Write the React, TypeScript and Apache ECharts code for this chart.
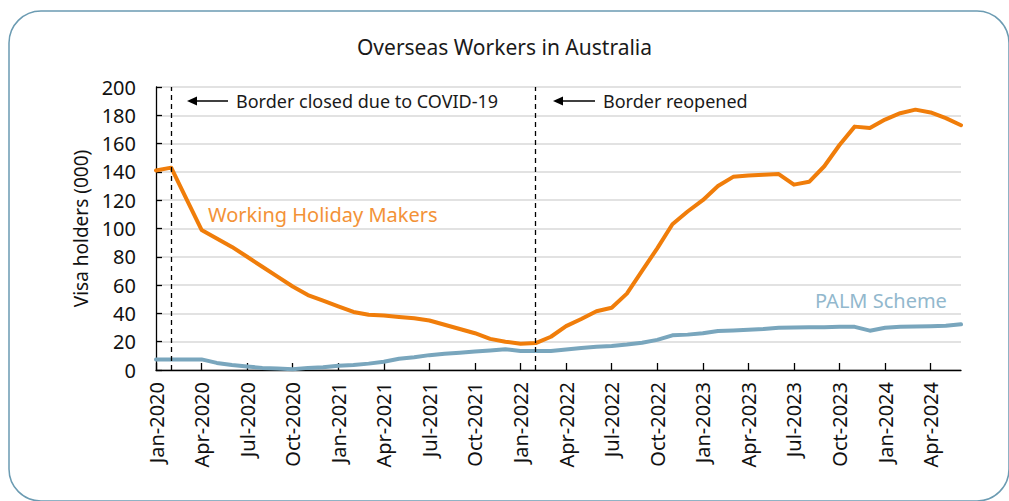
import React, { useEffect, useRef } from "react";
import * as echarts from "echarts";

const categories = [
  "Jan-2020","Feb-2020","Mar-2020","Apr-2020","May-2020","Jun-2020","Jul-2020","Aug-2020","Sep-2020","Oct-2020","Nov-2020","Dec-2020",
  "Jan-2021","Feb-2021","Mar-2021","Apr-2021","May-2021","Jun-2021","Jul-2021","Aug-2021","Sep-2021","Oct-2021","Nov-2021","Dec-2021",
  "Jan-2022","Feb-2022","Mar-2022","Apr-2022","May-2022","Jun-2022","Jul-2022","Aug-2022","Sep-2022","Oct-2022","Nov-2022","Dec-2022",
  "Jan-2023","Feb-2023","Mar-2023","Apr-2023","May-2023","Jun-2023","Jul-2023","Aug-2023","Sep-2023","Oct-2023","Nov-2023","Dec-2023",
  "Jan-2024","Feb-2024","Mar-2024","Apr-2024","May-2024","Jun-2024",
];

const workingHolidayMakers = [
  141, 143, 121, 99, 93, 87, 80, 73, 66, 59,
  53, 49, 45, 41, 39, 38.5, 37.5, 36.5, 35, 32,
  29, 26, 22, 20, 18.5, 19, 23.5, 31, 36, 41.5,
  44, 54, 70, 86, 103, 112, 120, 130, 136.5, 137.5,
  138, 138.5, 131, 133, 144, 159, 172, 171, 177, 181.5,
  184, 182, 178, 173,
];

const palmScheme = [
  7.5, 7.5, 7.5, 7.5, 5, 3.5, 2.4, 1.5, 1, 0.5,
  1.5, 2, 3, 3.5, 4.5, 5.8, 8, 9, 10.5, 11.5,
  12.2, 13, 13.8, 14.6, 13.5, 13.4, 13.5, 14.5, 15.5, 16.5,
  17, 18, 19.3, 21.3, 24.5, 25, 26, 27.6, 28, 28.5,
  29, 29.9, 30, 30.2, 30.3, 30.5, 30.5, 27.8, 29.8, 30.6,
  30.8, 31, 31.3, 32.3,
];

const eventMonths = ["Feb-2020", "Feb-2022"];
const eventLabels = ["Border closed due to COVID-19", "Border reopened"];

const FONT = "'Noto Sans', sans-serif";

export default function App() {
  const ref = useRef<HTMLDivElement>(null);

  useEffect(() => {
    if (!ref.current) return;
    const chart = echarts.init(ref.current, null, { renderer: "svg" });

    const arrow = (xTip: number, xTail: number, y: number) => [
      {
        type: "line",
        shape: { x1: xTail, y1: y, x2: xTip + 6, y2: y },
        style: { stroke: "#000", lineWidth: 1.3 },
        z: 10,
      },
      {
        type: "polygon",
        shape: { points: [[xTip, y], [xTip + 10, y - 4.5], [xTip + 10, y + 4.5]] },
        style: { fill: "#000" },
        z: 10,
      },
    ];

    chart.setOption({
      animation: false,
      backgroundColor: "#fff",
      title: {
        text: "Overseas Workers in Australia",
        left: "center",
        top: 31,
        textStyle: { fontFamily: FONT, fontSize: 21, fontWeight: "normal", color: "#1a1a1a" },
      },
      grid: { left: 156, right: 48, top: 87, bottom: 131, containLabel: false },
      xAxis: {
        type: "category",
        data: categories,
        boundaryGap: false,
        axisLine: { show: true, lineStyle: { color: "#000", width: 1.3 } },
        axisTick: { show: true, inside: true, length: 7, interval: 2, lineStyle: { color: "#000", width: 1.3 } },
        axisLabel: {
          interval: 2,
          rotate: 90,
          margin: 12,
          fontFamily: FONT,
          fontSize: 20,
          color: "#111",
        },
        splitLine: { show: false },
      },
      yAxis: {
        type: "value",
        min: 0,
        max: 200,
        interval: 20,
        name: "Visa holders (000)",
        nameLocation: "middle",
        nameGap: 65,
        nameTextStyle: { fontFamily: FONT, fontSize: 19, color: "#111" },
        axisLine: { show: true, lineStyle: { color: "#000", width: 1.3 } },
        axisTick: { show: true, inside: true, length: 6, lineStyle: { color: "#000", width: 1.3 } },
        axisLabel: { fontFamily: FONT, fontSize: 20, color: "#111", margin: 20 },
        splitLine: { show: true, lineStyle: { color: "#d9d9d9", width: 1.5 } },
      },
      series: [
        {
          name: "Working Holiday Makers",
          type: "line",
          data: workingHolidayMakers,
          showSymbol: false,
          symbol: "none",
          lineStyle: { color: "#f07d0a", width: 4, join: "round", cap: "round" },
          z: 3,
          markLine: {
            silent: true,
            symbol: "none",
            label: { show: false },
            lineStyle: { color: "#000", type: [5, 4], width: 1.3 },
            data: eventMonths.map((m) => ({ xAxis: m })),
          },
        },
        {
          name: "PALM Scheme",
          type: "line",
          data: palmScheme,
          showSymbol: false,
          symbol: "none",
          lineStyle: { color: "#79a6bd", width: 4, join: "round", cap: "round" },
          z: 2,
        },
      ],
      graphic: [
        {
          type: "rect",
          shape: { x: 9, y: 11, width: 1000, height: 490, r: 32 },
          style: { fill: "none", stroke: "#6b9bb2", lineWidth: 1.5 },
          silent: true,
        },
        ...arrow(187, 228, 101),
        {
          type: "text",
          x: 236,
          y: 101,
          style: { text: eventLabels[0], fontFamily: FONT, fontSize: 18, fill: "#1a1a1a", verticalAlign: "middle", align: "left" },
          z: 10,
        },
        ...arrow(553, 595, 101),
        {
          type: "text",
          x: 603,
          y: 101,
          style: { text: eventLabels[1], fontFamily: FONT, fontSize: 18, fill: "#1a1a1a", verticalAlign: "middle", align: "left" },
          z: 10,
        },
        {
          type: "text",
          x: 208,
          y: 214,
          style: { text: "Working Holiday Makers", fontFamily: FONT, fontSize: 20, fill: "#f39237", verticalAlign: "middle", align: "left" },
          z: 10,
        },
        {
          type: "text",
          x: 815,
          y: 300,
          style: { text: "PALM Scheme", fontFamily: FONT, fontSize: 20, fill: "#92b8cd", verticalAlign: "middle", align: "left" },
          z: 10,
        },
      ],
    });

    return () => chart.dispose();
  }, []);

  return (
    <div
      ref={ref}
      style={{ position: "absolute", left: 0, top: 0, width: 1009, height: 501 }}
    />
  );
}
